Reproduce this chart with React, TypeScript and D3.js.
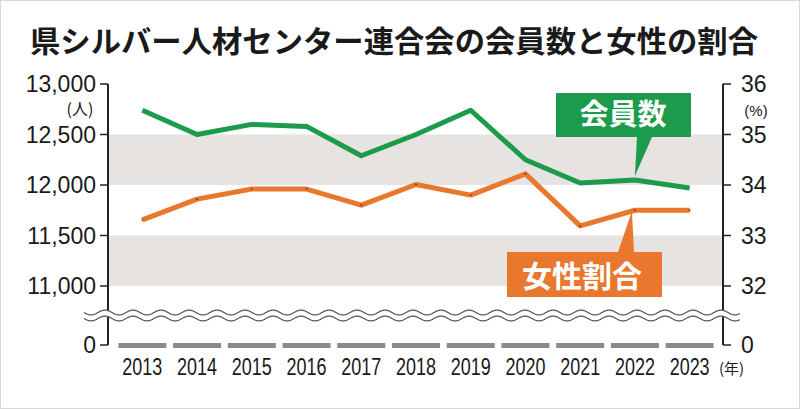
import React from "react";
import * as d3 from "d3";

const years = ["2013","2014","2015","2016","2017","2018","2019","2020","2021","2022","2023"];
const members = [12740, 12500, 12600, 12580, 12290, 12500, 12740, 12250, 12020, 12050, 11970];
const femaleRatio = [33.31, 33.72, 33.92, 33.92, 33.6, 34.01, 33.8, 34.22, 33.19, 33.5, 33.5];
const leftTicks = [11000, 11500, 12000, 12500, 13000];
const rightTicks = [32, 33, 34, 35, 36];
const bandPairs = [[12000, 12500], [11000, 11500]];

const GREEN = "#1b9b4b";
const ORANGE = "#e9772e";
const BAND = "#e6e3e0";
const AXIS = "#222";
const JP = "'Noto Sans CJK JP', 'Noto Sans', sans-serif";
const NUM = "'Liberation Sans', Arial, sans-serif";

export default function App() {
  const W = 800, H = 409;
  const x = d3.scaleBand<string>().domain(years).range([115, 717]).paddingInner(0.123).paddingOuter(0.0615);
  const cx = (y: string) => (x(y) as number) + x.bandwidth() / 2;
  const yL = d3.scaleLinear().domain([11000, 13000]).range([286, 84]);
  const yR = d3.scaleLinear().domain([32, 36]).range([286, 84]);
  const zeroY = 345;
  const axL = 108, axR = 723;

  const greenLine = d3.line<number>().x((_, i) => cx(years[i])).y(d => yL(d))(members) || "";
  const orangeLine = d3.line<number>().x((_, i) => cx(years[i])).y(d => yR(d))(femaleRatio) || "";

  // break wave (decorative)
  const waveX0 = 84, waveX1 = 740, period = 28, amp = 2.4;
  const upper: [number, number][] = [];
  const lower: [number, number][] = [];
  for (let px = waveX0; px <= waveX1; px += 1) {
    const s = Math.sin(((px - waveX0) / period) * 2 * Math.PI);
    upper.push([px, 312.5 + amp * s]);
    lower.push([px, 318.5 + amp * s]);
  }
  const wl = d3.line();
  const fillPath = (wl(upper) || "") + "L" + lower.slice().reverse().map(p => p.join(",")).join("L") + "Z";

  const g2022 = [cx("2022"), yL(members[9])];
  const o2022 = [cx("2022"), yR(femaleRatio[9])];

  return (
    <svg width={W} height={H} style={{ position: "absolute", left: 0, top: 0, background: "#fff" }}>
      <rect x={0.5} y={0.5} width={W - 1} height={H - 1} fill="#fff" stroke="#d8d8d8" />
      <text x={30} y={52} fontFamily={JP} fontWeight={700} fontSize={30} fill="#1a1a1a" textLength={728} lengthAdjust="spacingAndGlyphs">県シルバー人材センター連合会の会員数と女性の割合</text>

      {bandPairs.map((b, i) => (
        <rect key={i} x={axL + 1} width={axR - axL - 2} y={yL(b[1])} height={yL(b[0]) - yL(b[1])} fill={BAND} />
      ))}

      {/* year bars */}
      {years.map(yr => (
        <rect key={yr} x={x(yr)} y={343} width={x.bandwidth()} height={5} fill="#8b8b8b" />
      ))}
      {years.map(yr => (
        <text key={yr} x={cx(yr)} y={375} textAnchor="middle" fontFamily={NUM} fontSize={23} fill="#1a1a1a" textLength={40} lengthAdjust="spacingAndGlyphs">{yr}</text>
      ))}
      <text x={719} y={374} fontFamily={JP} fontSize={15} fill="#1a1a1a">(年)</text>

      {/* axes */}
      <line x1={axL} x2={axL} y1={yL(13000)} y2={zeroY} stroke={AXIS} strokeWidth={2} />
      <line x1={axR} x2={axR} y1={yR(36)} y2={zeroY} stroke={AXIS} strokeWidth={2} />
      {leftTicks.map(t => (
        <g key={t}>
          <line x1={axL - 8} x2={axL} y1={yL(t)} y2={yL(t)} stroke={AXIS} strokeWidth={1.5} />
          <text x={96} y={yL(t)} dy="0.36em" textAnchor="end" fontFamily={NUM} fontSize={23} fill="#1a1a1a">{d3.format(",")(t)}</text>
        </g>
      ))}
      <line x1={axL - 8} x2={axL} y1={zeroY} y2={zeroY} stroke={AXIS} strokeWidth={1.5} />
      <text x={96} y={zeroY} dy="0.36em" textAnchor="end" fontFamily={NUM} fontSize={23} fill="#1a1a1a">0</text>
      <text x={80} y={115} textAnchor="middle" fontFamily={JP} fontSize={16} fill="#1a1a1a">(人)</text>

      {rightTicks.map(t => (
        <g key={t}>
          <line x1={axR} x2={axR + 8} y1={yR(t)} y2={yR(t)} stroke={AXIS} strokeWidth={1.5} />
          <text x={741} y={yR(t)} dy="0.36em" fontFamily={NUM} fontSize={23} fill="#1a1a1a">{t}</text>
        </g>
      ))}
      <line x1={axR} x2={axR + 8} y1={zeroY} y2={zeroY} stroke={AXIS} strokeWidth={1.5} />
      <text x={741} y={zeroY} dy="0.36em" fontFamily={NUM} fontSize={23} fill="#1a1a1a">0</text>
      <text x={756} y={116} textAnchor="middle" fontFamily={NUM} fontSize={15} fill="#1a1a1a">(%)</text>

      {/* break */}
      <path d={fillPath} fill="#fff" />
      <path d={wl(upper) || ""} fill="none" stroke="#555" strokeWidth={1.3} />
      <path d={wl(lower) || ""} fill="none" stroke="#555" strokeWidth={1.3} />

      {/* lines */}
      <path d={greenLine} fill="none" stroke={GREEN} strokeWidth={5} strokeLinejoin="round" />
      <path d={orangeLine} fill="none" stroke={ORANGE} strokeWidth={5} strokeLinejoin="round" />
      {femaleRatio.map((v, i) => (
        <circle key={i} cx={cx(years[i])} cy={yR(v)} r={0.9} fill="#6b3a1a" />
      ))}

      {/* green label */}
      <path d={`M556,93H691V137H652L${g2022[0]},${g2022[1] - 4}L637,137H556Z`} fill={GREEN} />
      <text x={623} y={125} textAnchor="middle" fontFamily={JP} fontWeight={700} fontSize={29} fill="#fff">会員数</text>

      {/* orange label */}
      <path d={`M507,252H618L${o2022[0] - 3},${o2022[1] + 1}L634,252H662V297H507Z`} fill={ORANGE} />
      <text x={582} y={287} textAnchor="middle" fontFamily={JP} fontWeight={700} fontSize={30} fill="#fff">女性割合</text>
    </svg>
  );
}
